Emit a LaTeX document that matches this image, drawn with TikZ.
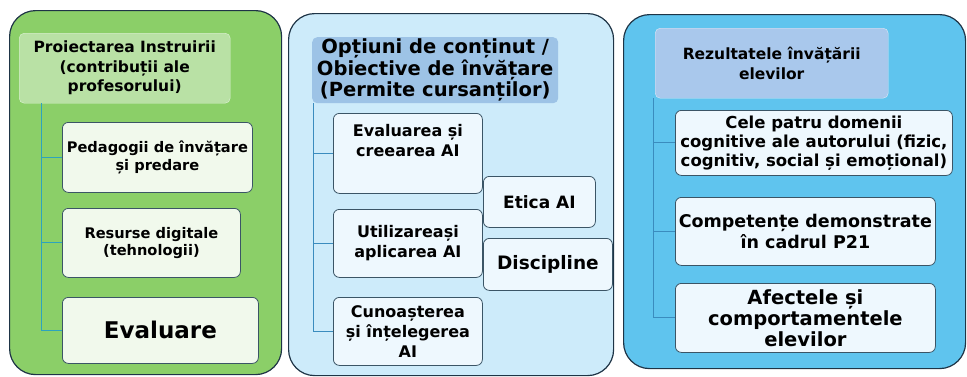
\documentclass[tikz,border=0pt]{standalone}
\usepackage{fontspec}
\setmainfont{DejaVu Sans}
\usetikzlibrary{positioning, calc}
\definecolor{greenpanel}{HTML}{8BCF68}
\definecolor{greenhdr}{HTML}{B9E1A5}
\definecolor{greenitem}{HTML}{F1F9EC}
\definecolor{skypanel}{HTML}{CDEBFA}
\definecolor{skyhdr}{HTML}{9DC3E6}
\definecolor{skyitem}{HTML}{EEF8FE}
\definecolor{bluepanel}{HTML}{5FC4EE}
\definecolor{bluehdr}{HTML}{A9C8EC}
\definecolor{panelline}{HTML}{1E3446}
\definecolor{itemline}{HTML}{3B5566}
\definecolor{linkteal}{HTML}{2CA3BE}
\definecolor{linkblue}{HTML}{3A8CBE}
\tikzset{
  panel/.style={draw=panelline,line width=1.2pt,rounded corners=26pt,anchor=north west,inner sep=0pt},
  header/.style={rounded corners=5pt,anchor=north west,inner sep=0pt,align=center,font=\bfseries\fontsize{15.5}{19.5}\selectfont},
  item/.style={draw=itemline,line width=0.8pt,rounded corners=6pt,anchor=north west,inner sep=0pt,align=center,font=\bfseries\fontsize{14.6}{17.5}\selectfont},
  link/.style={draw=linkteal,line width=1pt},
}

\begin{document}
\begin{tikzpicture}[x=1pt,y=-1pt]
  \useasboundingbox (0,0) rectangle (967,376);
  % panel 1: proiectarea
  \node[panel,fill=greenpanel,minimum width=272pt,minimum height=364pt] (P1) at (9,10) {};
  \node[header,fill=greenhdr,draw=white!55!greenhdr,minimum width=211pt,minimum height=70pt] (H1) at (19,33)
    {Proiectarea Instruirii\\(contribuții ale\\profesorului)};
  \node[item,fill=greenitem,minimum width=190pt,minimum height=70pt] (A1) at (62,122) {Pedagogii de învățare\\și predare};
  \node[item,fill=greenitem,minimum width=178pt,minimum height=69pt] (A2) at (62,208) {Resurse digitale\\(tehnologii)};
  \node[item,fill=greenitem,minimum width=196pt,minimum height=66pt,font=\bfseries\fontsize{23}{26}\selectfont] (A3) at (62,297) {Evaluare};
  \coordinate (S1) at (41,103);
  \foreach \n in {A1,A2,A3} \draw[link] (S1) |- (\n.west);
  % panel 2: optiuni
  \node[panel,fill=skypanel,minimum width=325pt,minimum height=362pt] (P2) at (288,13) {};
  \node[header,fill=skyhdr,minimum width=246pt,minimum height=66pt,font=\bfseries\fontsize{19.5}{21.5}\selectfont] (H2) at (312,37)
    {Opțiuni de conținut /\\Obiective de învățare\\(Permite cursanților)};
  \node[item,fill=skyitem,minimum width=149pt,minimum height=80pt,font=\bfseries\fontsize{16}{20}\selectfont] (B1) at (333,113) {Evaluarea și\\creearea AI\\[6pt]};
  \node[item,fill=skyitem,minimum width=149pt,minimum height=68pt,font=\bfseries\fontsize{16}{20}\selectfont] (B2) at (333,209) {Utilizareași\\aplicarea AI};
  \node[item,fill=skyitem,minimum width=149pt,minimum height=68pt,font=\bfseries\fontsize{16}{20}\selectfont] (B3) at (333,297) {Cunoașterea\\și înțelegerea\\AI};
  \node[item,fill=skyitem,minimum width=112pt,minimum height=51pt,font=\bfseries\fontsize{17}{20}\selectfont] (E1) at (483,176) {Etica AI};
  \node[item,fill=skyitem,minimum width=129pt,minimum height=52pt,font=\bfseries\fontsize{18.5}{20}\selectfont] (E2) at (483,238) {Discipline};
  \coordinate (S2) at (313,103);
  \foreach \n in {B1,B2,B3} \draw[link,draw=linkblue] (S2) |- (\n.west);
  % panel 3: rezultatele
  \node[panel,fill=bluepanel,minimum width=342pt,minimum height=354pt] (P3) at (623,14) {};
  \node[header,fill=bluehdr,draw=white!60!bluehdr,minimum width=233pt,minimum height=70pt] (H3) at (655,28)
    {Rezultatele învățării\\elevilor};
  \node[item,fill=skyitem,minimum width=277pt,minimum height=65pt,font=\bfseries\fontsize{16.5}{19}\selectfont] (C1) at (675,110)
    {Cele patru domenii\\cognitive ale autorului (fizic,\\cognitiv, social și emoțional)};
  \node[item,fill=skyitem,minimum width=260pt,minimum height=68pt,font=\bfseries\fontsize{17.5}{21}\selectfont] (C2) at (675,197)
    {Competențe demonstrate\\în cadrul P21};
  \node[item,fill=skyitem,minimum width=260pt,minimum height=69pt,font=\bfseries\fontsize{19.5}{21}\selectfont] (C3) at (675,283)
    {Afectele și\\comportamentele\\elevilor};
  \coordinate (S3) at (653,98);
  \foreach \n in {C1,C2,C3} \draw[link,draw=linkblue] (S3) |- (\n.west);
\end{tikzpicture}
\end{document}
